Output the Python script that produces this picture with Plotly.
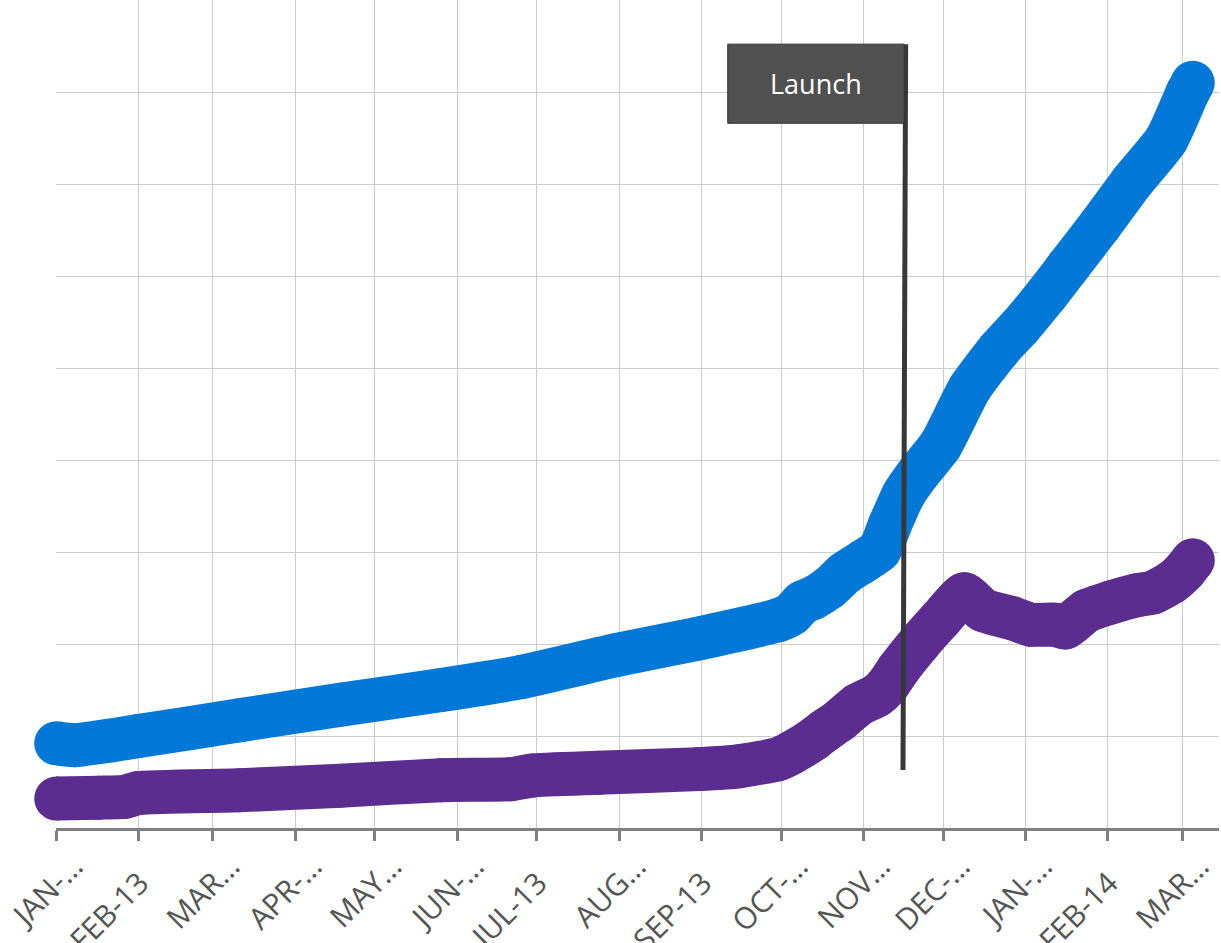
import plotly.graph_objects as go

# ---------------- data ----------------
blue_dates = ["2013-01-01", "2013-01-08", "2013-02-01", "2013-03-11", "2013-04-18",
              "2013-05-26", "2013-06-25", "2013-07-31", "2013-08-31", "2013-09-30",
              "2013-10-05", "2013-10-09", "2013-10-13", "2013-10-19", "2013-10-25",
              "2013-11-01", "2013-11-07", "2013-11-11", "2013-11-16", "2013-11-22",
              "2013-11-30", "2013-12-11", "2013-12-22", "2013-12-30", "2014-01-09",
              "2014-01-17", "2014-01-29", "2014-02-10", "2014-02-23", "2014-03-03",
              "2014-03-05"]
blue_values = [0.92, 0.90, 1.00, 1.17, 1.34,
               1.50, 1.64, 1.88, 2.06, 2.26,
               2.33, 2.45, 2.50, 2.61, 2.77,
               2.90, 3.02, 3.30, 3.62, 3.87,
               4.16, 4.78, 5.20, 5.45, 5.80,
               6.10, 6.55, 7.02, 7.48, 7.99,
               8.10]

purple_dates = ["2013-01-01", "2013-01-17", "2013-01-27", "2013-02-01", "2013-03-11",
                "2013-04-18", "2013-05-26", "2013-06-21", "2013-06-29", "2013-07-24",
                "2013-08-31", "2013-09-15", "2013-09-30", "2013-10-05", "2013-10-13",
                "2013-10-17", "2013-10-23", "2013-10-30", "2013-11-06", "2013-11-10",
                "2013-11-14", "2013-11-22", "2013-11-30", "2013-12-09", "2013-12-16",
                "2013-12-27", "2014-01-03", "2014-01-12", "2014-01-16", "2014-01-24",
                "2014-02-02", "2014-02-12", "2014-02-18", "2014-02-25", "2014-03-02",
                "2014-03-05"]
purple_values = [0.32, 0.33, 0.34, 0.38, 0.41,
                 0.46, 0.52, 0.53, 0.57, 0.60,
                 0.64, 0.67, 0.75, 0.82, 0.96,
                 1.05, 1.17, 1.34, 1.44, 1.55,
                 1.72, 2.01, 2.27, 2.54, 2.37,
                 2.28, 2.21, 2.21, 2.18, 2.36,
                 2.45, 2.53, 2.56, 2.67, 2.80,
                 2.91]

tick_dates = ["2013-01-01", "2013-02-01", "2013-03-01", "2013-04-01", "2013-05-01",
              "2013-06-01", "2013-07-01", "2013-08-01", "2013-09-01", "2013-10-01",
              "2013-11-01", "2013-12-01", "2014-01-01", "2014-02-01", "2014-03-01"]
tick_labels = ["JAN-…", "FEB-13", "MAR…", "APR-…", "MAY…", "JUN-…", "JUL-13", "AUG…",
               "SEP-13", "OCT-…", "NOV…", "DEC-…", "JAN-…", "FEB-14", "MAR…"]

launch_label = "Launch"
launch_top = ("2013-11-16 21:00", 8.52)
launch_bottom = ("2013-11-15 21:00", 0.63)
launch_box_x = ("2013-09-10 21:00", "2013-11-16 08:00")
launch_box_y = (7.66, 8.52)
launch_text_pos = ("2013-10-14 02:00", 8.09)

BLUE = "#0078D7"
PURPLE = "#5C2D91"
LINE_W = 44
FONT = "Open Sans"

NBSP = "\u00a0"
ticktext = [t if "…" in t else t + NBSP * 3 for t in tick_labels]

fig = go.Figure()
for d, v, c in [(blue_dates, blue_values, BLUE), (purple_dates, purple_values, PURPLE)]:
    fig.add_trace(go.Scatter(
        x=d, y=v, mode="lines+markers",
        line=dict(color=c, width=LINE_W, simplify=False, shape="spline", smoothing=0.5),
        marker=dict(color=c, size=LINE_W, line=dict(width=0)),
        cliponaxis=False, showlegend=False, hoverinfo="skip"))

# launch marker
fig.add_shape(type="line", xref="x", yref="y",
              x0=launch_bottom[0], y0=launch_bottom[1], x1=launch_top[0], y1=launch_top[1],
              line=dict(color="#383838", width=5), layer="above")
fig.add_shape(type="rect", xref="x", yref="y",
              x0=launch_box_x[0], x1=launch_box_x[1], y0=launch_box_y[0], y1=launch_box_y[1],
              fillcolor="#505050", line=dict(color="#333333", width=1), layer="above")
fig.add_annotation(x=launch_text_pos[0], y=launch_text_pos[1], xref="x", yref="y",
                   text=launch_label, showarrow=False,
                   font=dict(family=FONT, size=27, color="white"))

fig.update_layout(
    width=1221, height=943,
    margin=dict(l=56, r=2, t=0, b=115),
    paper_bgcolor="white", plot_bgcolor="white",
    showlegend=False,
    font=dict(family=FONT),
)
fig.update_xaxes(
    type="date", range=["2012-12-31 22:00", "2014-03-14 21:00"],
    tickmode="array", tickvals=tick_dates, ticktext=ticktext,
    tickangle=-45, tickfont=dict(family=FONT, size=30, color="#555555"),
    ticklabelshift=18, ticklabelstandoff=-4, automargin=False,
    ticklabeloverflow="allow",
    showgrid=True, gridcolor="#cccccc", gridwidth=1,
    showline=True, linecolor="#808080", linewidth=3,
    ticks="outside", ticklen=10, tickwidth=3, tickcolor="#808080",
    zeroline=False,
)
fig.update_yaxes(
    range=[0, 9], dtick=1, tick0=0, showticklabels=False, automargin=False,
    showgrid=True, gridcolor="#cccccc", gridwidth=1,
    zeroline=False, showline=False, ticks="",
)

fig.write_html("out.html")
